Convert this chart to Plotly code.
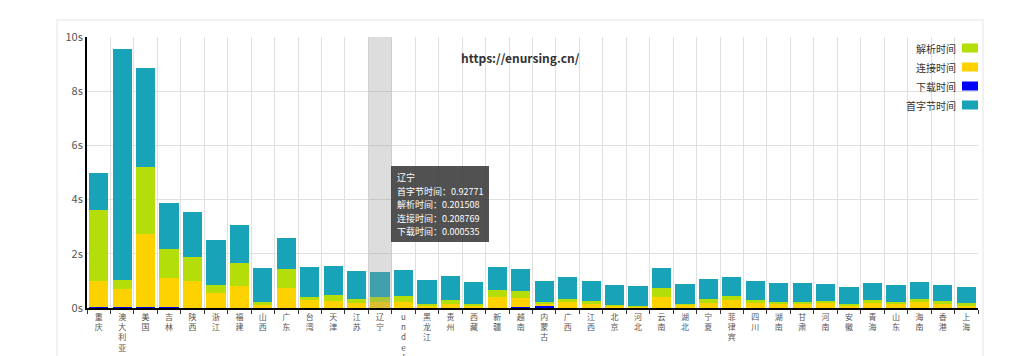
import plotly.graph_objects as go

categories = ["重庆", "澳大利亚", "美国", "吉林", "陕西", "浙江", "福建", "山西", "广东", "台湾",
              "天津", "江苏", "辽宁", "undefined", "黑龙江", "贵州", "西藏", "新疆", "越南", "内蒙古",
              "广西", "江西", "北京", "河北", "云南", "湖北", "宁夏", "菲律宾", "四川", "湖南",
              "甘肃", "河南", "安徽", "青海", "山东", "海南", "香港", "上海"]

download = [0.02, 0.02, 0.03, 0.02, 0.01, 0.01, 0.01, 0.01, 0.01, 0.01,
            0.01, 0.01, 0.000535, 0.01, 0.01, 0.01, 0.01, 0.01, 0.02, 0.09,
            0.01, 0.01, 0.01, 0.01, 0.01, 0.01, 0.01, 0.01, 0.01, 0.01,
            0.01, 0.01, 0.01, 0.01, 0.01, 0.01, 0.01, 0.01]
connect = [0.96, 0.69, 2.69, 1.07, 0.97, 0.54, 0.81, 0.11, 0.73, 0.30,
           0.24, 0.17, 0.208769, 0.23, 0.10, 0.15, 0.10, 0.38, 0.36, 0.09,
           0.22, 0.12, 0.07, 0.05, 0.38, 0.11, 0.19, 0.30, 0.17, 0.15,
           0.16, 0.16, 0.09, 0.21, 0.16, 0.20, 0.15, 0.10]
parse = [2.64, 0.33, 2.47, 1.09, 0.92, 0.31, 0.83, 0.09, 0.70, 0.11,
         0.23, 0.16, 0.201508, 0.21, 0.05, 0.15, 0.05, 0.28, 0.25, 0.05,
         0.12, 0.13, 0.03, 0.02, 0.33, 0.04, 0.15, 0.14, 0.10, 0.08,
         0.07, 0.10, 0.03, 0.06, 0.06, 0.14, 0.10, 0.07]
first_byte = [1.35, 8.53, 3.65, 1.69, 1.66, 1.64, 1.42, 1.26, 1.14, 1.11,
              1.08, 1.03, 0.92771, 0.95, 0.86, 0.88, 0.80, 0.83, 0.81, 0.75,
              0.81, 0.72, 0.74, 0.74, 0.75, 0.72, 0.73, 0.71, 0.70, 0.68,
              0.68, 0.61, 0.64, 0.64, 0.62, 0.62, 0.59, 0.58]

y_ticks = [0, 2, 4, 6, 8, 10]
y_tick_labels = ["0s", "2s", "4s", "6s", "8s", "10s"]

names = {"parse": "解析时间", "connect": "连接时间", "download": "下载时间", "first": "首字节时间"}
colors = {"parse": "#b3de0a", "connect": "#fed200", "download": "#0000ff", "first": "#19a3b9"}

highlight_cat = "辽宁"
title_text = "https://enursing.cn/"

def vert(label):
    return "<br>".join(list(label))

tick_text = [vert(c) for c in categories]

# page has an 8px body margin; plot area in page px: x 87..978, y 37..308
OFF = 8
PL, PT = 87, 37
PW, PH = 891, 271

def px_x(x):
    return (x - PL) / PW

def px_y(y):
    return (PT + PH - y) / PH

fig = go.Figure()
for key, vals in [("download", download), ("connect", connect), ("parse", parse), ("first", first_byte)]:
    fig.add_trace(go.Bar(
        x=categories, y=vals, name=names[key],
        marker=dict(color=colors[key], line=dict(width=0)),
        showlegend=False,
    ))

# highlight band over the hovered category
fig.add_shape(type="rect", xref="x", yref="paper",
              x0=categories.index(highlight_cat) - 0.5, x1=categories.index(highlight_cat) + 0.5,
              y0=0, y1=1, fillcolor="rgba(150,150,150,0.32)", line=dict(width=0), layer="above")

# container border
fig.add_shape(type="rect", xref="paper", yref="paper",
              x0=px_x(57), x1=px_x(983), y0=px_y(400), y1=px_y(20),
              line=dict(color="#eeeeee", width=1.5), fillcolor="rgba(0,0,0,0)", layer="below")

# custom legend (text left of swatch)
legend_order = ["parse", "connect", "download", "first"]
leg_y = [48, 67, 86, 105]
for key, yy in zip(legend_order, leg_y):
    yp = px_y(yy)
    fig.add_shape(type="rect", xref="paper", yref="paper",
                  x0=px_x(962), x1=px_x(978),
                  y0=yp - 4.5 / PH, y1=yp + 4.5 / PH,
                  fillcolor=colors[key], line=dict(width=0), layer="above")
    fig.add_annotation(xref="paper", yref="paper", x=px_x(958), y=yp,
                       text=names[key], showarrow=False, xanchor="right", yanchor="middle",
                       font=dict(size=10, color="#333333"))

# title
fig.add_annotation(xref="paper", yref="paper", x=px_x(520), y=px_y(57),
                   text="<b>" + title_text + "</b>", showarrow=False,
                   xanchor="center", yanchor="middle",
                   font=dict(size=12, color="#333333"))

# tooltip: background box + lines
idx = categories.index(highlight_cat)
tip_lines = [highlight_cat,
             f"{names['first']}：{first_byte[idx]}",
             f"{names['parse']}：{parse[idx]}",
             f"{names['connect']}：{connect[idx]}",
             f"{names['download']}：{download[idx]}"]
tip_y = [177, 191, 204.5, 218, 231.5]
fig.add_shape(type="rect", xref="paper", yref="paper",
              x0=px_x(391), x1=px_x(489), y0=px_y(242), y1=px_y(166),
              fillcolor="rgba(50,50,50,0.85)", line=dict(width=0), layer="above")
for line, yy in zip(tip_lines, tip_y):
    fig.add_annotation(xref="paper", yref="paper", x=px_x(395), y=px_y(yy),
                       text=line, showarrow=False, xanchor="left", yanchor="middle",
                       font=dict(size=9, color="#ffffff"))

fig.update_layout(
    width=1024, height=356,
    margin=dict(l=PL - OFF, r=1024 - (PL - OFF) - PW, t=PT - OFF, b=356 - (PT - OFF) - PH,
                autoexpand=False),
    barmode="stack", bargap=0.18,
    paper_bgcolor="white", plot_bgcolor="white",
    font=dict(family="Noto Sans CJK SC, sans-serif", color="#333333"),
    showlegend=False,
)
fig.update_xaxes(
    type="category", tickmode="array", tickvals=categories, ticktext=tick_text,
    tickson="boundaries", ticks="outside", ticklen=4, tickcolor="#333333",
    showgrid=True, gridcolor="#e0e0e0", gridwidth=1,
    showline=True, linecolor="#000000", linewidth=2,
    tickfont=dict(size=8, color="#555555"), tickangle=0, automargin=False,
    range=[-0.5, len(categories) - 0.5],
)
fig.update_yaxes(
    range=[0, 10], tickvals=y_ticks, ticktext=y_tick_labels,
    showgrid=True, gridcolor="#e0e0e0", gridwidth=1,
    showline=True, linecolor="#000000", linewidth=2, automargin=False,
    ticks="", tickfont=dict(size=11, color="#555555"), zeroline=False,
)

fig.write_html("out.html")
